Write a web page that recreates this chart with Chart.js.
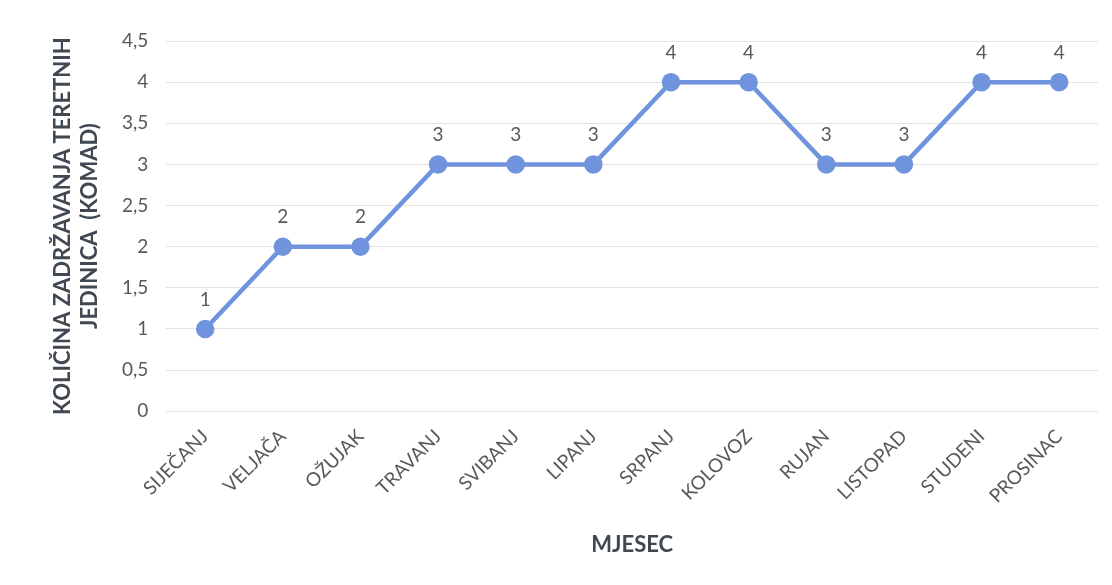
<!DOCTYPE html>
<html>
<head>
<meta charset="utf-8">
<script src="https://cdn.jsdelivr.net/npm/chart.js@4/dist/chart.umd.min.js"></script>
<style>
  html, body { margin: 0; padding: 0; background: #fff; }
  #wrap { width: 1112px; height: 585px; }
</style>
</head>
<body>
<div id="wrap"><canvas id="chart"></canvas></div>
<script>
// --- data ---
const months = ["SIJEČANJ", "VELJAČA", "OŽUJAK", "TRAVANJ", "SVIBANJ", "LIPANJ",
                "SRPANJ", "KOLOVOZ", "RUJAN", "LISTOPAD", "STUDENI", "PROSINAC"];
const counts = [1, 2, 2, 3, 3, 3, 4, 4, 3, 3, 4, 4];
const yTitle = ["KOLIČINA ZADRŽAVANJA TERETNIH", "JEDINICA  (KOMAD)"];
const xTitle = "MJESEC";

const FONT = "Lato, 'Open Sans', sans-serif";
const textGrey = "#595959";
const titleGrey = "#404852";
const lineBlue = "#6f93dc";

// labels above each point
const pointLabels = {
  id: "pointLabels",
  afterDatasetsDraw(chart) {
    const ctx = chart.ctx;
    const meta = chart.getDatasetMeta(0);
    ctx.save();
    ctx.font = "19px " + FONT;
    ctx.fillStyle = textGrey;
    ctx.textAlign = "center";
    ctx.textBaseline = "bottom";
    meta.data.forEach((pt, i) => {
      ctx.fillText(String(counts[i]), pt.x, pt.y - 20);
    });
    ctx.restore();
  }
};

new Chart(document.getElementById("chart"), {
  type: "line",
  data: {
    labels: months,
    datasets: [{
      data: counts,
      borderColor: lineBlue,
      backgroundColor: lineBlue,
      borderWidth: 4.5,
      pointRadius: 7,
      pointHoverRadius: 7,
      tension: 0
    }]
  },
  options: {
    responsive: true,
    maintainAspectRatio: false,
    animation: false,
    layout: { padding: { left: 45, right: 14, top: 41, bottom: 23 } },
    plugins: { legend: { display: false }, tooltip: { enabled: false } },
    scales: {
      x: {
        offset: true,
        grid: { display: false },
        border: { display: false },
        ticks: {
          color: textGrey,
          font: { family: FONT, size: 19 },
          maxRotation: 45,
          minRotation: 45,
          padding: 6
        },
        title: {
          display: true,
          text: xTitle,
          color: titleGrey,
          font: { family: FONT, size: 22, weight: "bold" },
          padding: { top: 18 }
        }
      },
      y: {
        min: 0,
        max: 4.5,
        grid: { color: "#e3e3e3", lineWidth: 1, drawTicks: false },
        border: { display: false },
        ticks: {
          stepSize: 0.5,
          color: textGrey,
          font: { family: FONT, size: 19 },
          padding: 18,
          callback: v => String(v).replace(".", ",")
        },
        title: {
          display: true,
          text: yTitle,
          color: titleGrey,
          font: { family: FONT, size: 22, weight: "bold", lineHeight: 1.25 },
          padding: { top: 4, bottom: 0 }
        }
      }
    }
  },
  plugins: [pointLabels]
});
</script>
</body>
</html>
